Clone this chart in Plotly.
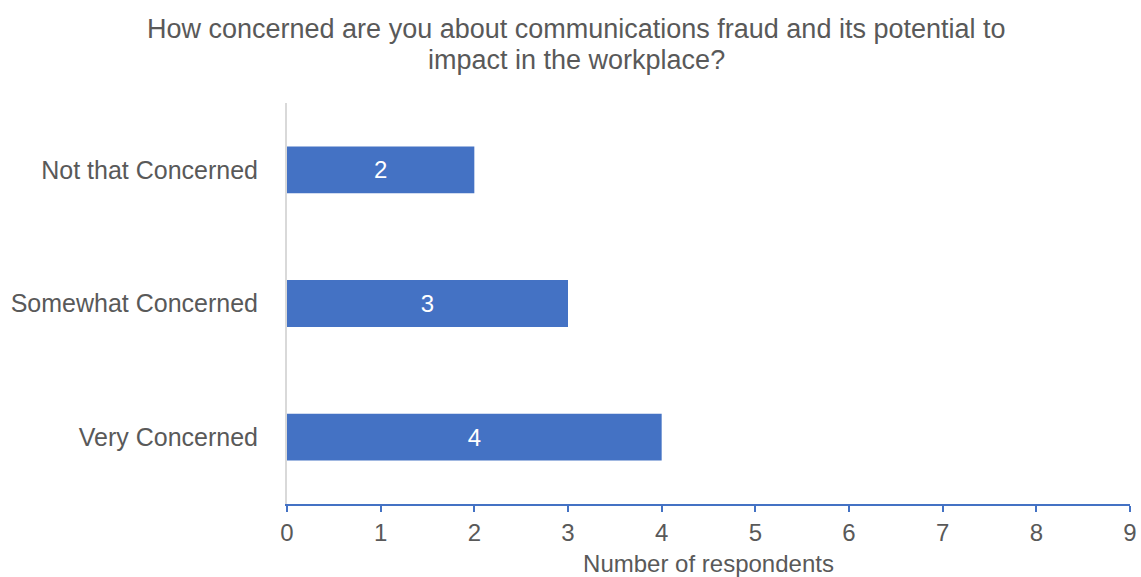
import plotly.graph_objects as go

categories = ["Very Concerned", "Somewhat Concerned", "Not that Concerned"]
respondents = [4, 3, 2]
x_ticks = [0, 1, 2, 3, 4, 5, 6, 7, 8, 9]

title_lines = [
    "How concerned are you about communications fraud and its potential to",
    "impact in the workplace?",
]

grey = "#595959"
bar_blue = "#4472C4"
font_family = "Liberation Sans, Arial, sans-serif"

fig = go.Figure(
    go.Bar(
        x=respondents,
        y=categories,
        orientation="h",
        marker=dict(color=bar_blue, line=dict(width=0)),
        width=0.35,
        text=respondents,
        textposition="inside",
        insidetextanchor="middle",
        textfont=dict(color="white", size=24, family=font_family),
        hoverinfo="skip",
    )
)

# Two-line chart title, placed line by line above the plot area
for line, y_pos in zip(title_lines, [1.1845, 1.1072]):
    fig.add_annotation(
        text=line,
        xref="paper",
        yref="paper",
        x=0.343,
        y=y_pos,
        xanchor="center",
        yanchor="middle",
        showarrow=False,
        font=dict(size=27, color=grey, family=font_family),
    )

fig.update_layout(
    width=1141,
    height=577,
    margin=dict(l=287, r=11, t=103, b=73),
    paper_bgcolor="white",
    plot_bgcolor="white",
    showlegend=False,
    font=dict(family=font_family, color=grey, size=24),
    xaxis=dict(
        range=[0, 9],
        automargin=False,
        tickvals=x_ticks,
        ticktext=[str(v) for v in x_ticks],
        showgrid=False,
        zeroline=False,
        showline=True,
        linecolor=bar_blue,
        linewidth=2,
        ticks="outside",
        ticklen=6,
        tickwidth=2,
        tickcolor=bar_blue,
        tickfont=dict(size=24, color=grey),
        title=dict(text="Number of respondents", font=dict(size=24, color=grey), standoff=17),
    ),
    yaxis=dict(
        categoryorder="array",
        categoryarray=categories,
        range=[-0.5, 2.5],
        automargin=False,
        showgrid=False,
        zeroline=False,
        showline=True,
        linecolor="#D9D9D9",
        linewidth=2,
        ticks="",
        ticklabelstandoff=22,
        tickfont=dict(size=25, color=grey),
    ),
)

fig.write_html("out.html")
